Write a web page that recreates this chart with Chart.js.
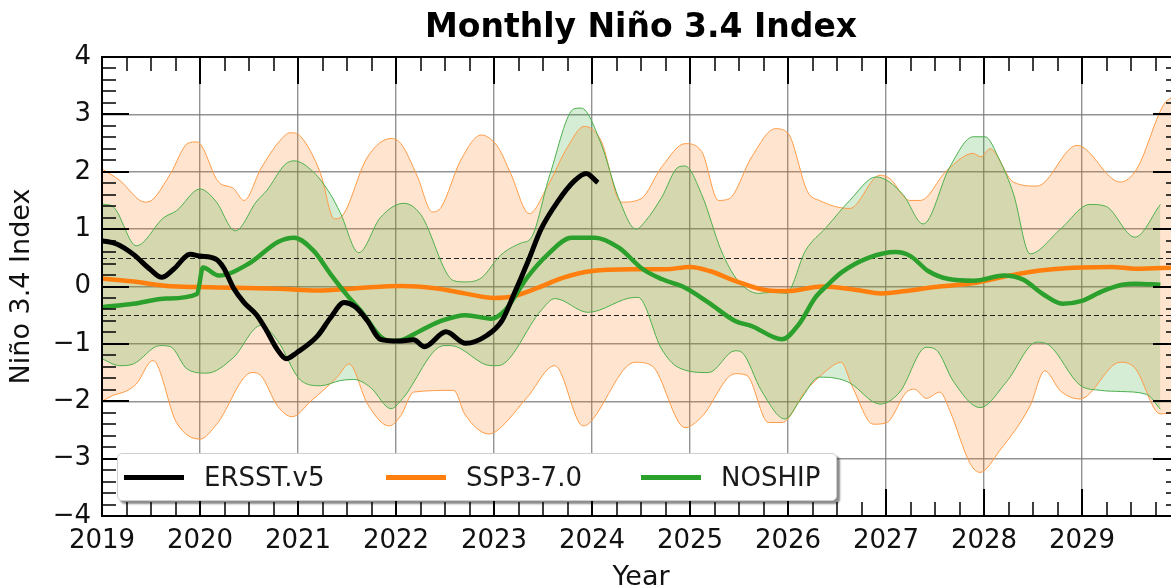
<!DOCTYPE html>
<html>
<head>
<meta charset="utf-8">
<script src="https://cdn.jsdelivr.net/npm/chart.js@4.4.0/dist/chart.umd.min.js"></script>
<style>
    html, body { margin: 0; padding: 0; background: #fff; overflow: hidden; width: 1171px; height: 588px; }
    #wrap { position: relative; width: 1200px; height: 600px; }
    #legend {
        position: absolute; left: 117px; top: 453px; width: 720px; height: 48px;
        box-sizing: border-box; background: #fff; border: 1px solid #cfcfcf; border-radius: 5px;
        box-shadow: 3px 3px 2px rgba(0, 0, 0, 0.45);
        display: flex; align-items: center; padding-left: 6px;
        font-family: 'DejaVu Sans'; font-size: 26px; color: #1a1a1a; white-space: nowrap;
    }
    .item { display: flex; align-items: center; flex: none; }
    .item:nth-child(1) { width: 262px; }
    .item:nth-child(2) { width: 255px; }
    .swatch { width: 60px; height: 5px; margin-right: 20px; flex: none; }
</style>
</head>
<body>
<div id="wrap">
    <canvas id="ninoChart" width="1200" height="600"></canvas>
    <div id="legend"></div>
</div>
<script>
const xMin = 2019, xMax = 2030;
const yMin = -4, yMax = 4;
const refLevels = [0.5, -0.5];

// observed index
const ersstYears = [2019.0, 2019.15, 2019.32, 2019.49, 2019.61, 2019.73, 2019.9, 2020.0, 2020.16, 2020.24,
    2020.34, 2020.45, 2020.58, 2020.68, 2020.79, 2020.88, 2020.99, 2021.2, 2021.33, 2021.47,
    2021.58, 2021.71, 2021.84, 2022.02, 2022.18, 2022.29, 2022.51, 2022.71, 2022.93, 2023.08,
    2023.2, 2023.35, 2023.48, 2023.65, 2023.82, 2023.94, 2024.06];
const ersstValues = [0.80, 0.74, 0.56, 0.30, 0.16, 0.30, 0.56, 0.53, 0.48, 0.33,
    -0.02, -0.28, -0.50, -0.77, -1.10, -1.26, -1.15, -0.86, -0.55, -0.28,
    -0.35, -0.60, -0.92, -0.95, -0.93, -1.05, -0.79, -0.99, -0.85, -0.60,
    -0.15, 0.45, 1.00, 1.48, 1.84, 1.97, 1.81];

// SSP3-7.0 ensemble mean
const sspYears = [2019.0, 2019.3, 2019.66, 2020.0, 2020.34, 2020.8, 2021.2, 2021.6, 2022.05, 2022.4,
    2022.7, 2023.0, 2023.2, 2023.45, 2023.7, 2024.0, 2024.4, 2024.75, 2025.0, 2025.2,
    2025.46, 2025.8, 2026.0, 2026.35, 2026.7, 2026.95, 2027.2, 2027.5, 2027.9, 2028.2,
    2028.45, 2028.7, 2029.0, 2029.3, 2029.55, 2029.95];
const sspValues = [0.14, 0.09, 0.01, -0.01, -0.02, -0.04, -0.07, -0.03, 0.01, -0.03,
    -0.12, -0.20, -0.17, -0.02, 0.15, 0.27, 0.30, 0.30, 0.34, 0.27,
    0.10, -0.07, -0.08, 0.0, -0.06, -0.12, -0.08, -0.01, 0.06, 0.17,
    0.25, 0.30, 0.33, 0.34, 0.31, 0.33];

// SSP3-7.0 spread
const sspHighYears = [2019.0, 2019.18, 2019.44, 2019.52, 2019.70, 2019.88, 2019.97, 2020.19, 2020.34, 2020.45,
    2020.62, 2020.82, 2020.92, 2021.03, 2021.23, 2021.37, 2021.43, 2021.71, 2021.95, 2022.05,
    2022.22, 2022.37, 2022.46, 2022.66, 2022.87, 2023.04, 2023.17, 2023.36, 2023.55, 2023.75,
    2023.92, 2024.09, 2024.30, 2024.50, 2024.71, 2024.95, 2025.12, 2025.29, 2025.40, 2025.63,
    2025.87, 2026.00, 2026.20, 2026.32, 2026.63, 2026.94, 2027.04, 2027.24, 2027.35, 2027.62,
    2027.89, 2027.97, 2028.06, 2028.30, 2028.54, 2028.95, 2029.39, 2029.56, 2029.83, 2029.94];
const sspHighValues = [2.05, 1.85, 1.47, 1.52, 1.97, 2.50, 2.52, 1.82, 1.71, 1.50,
    2.05, 2.55, 2.68, 2.61, 1.97, 1.18, 1.20, 2.26, 2.58, 2.49,
    1.91, 1.30, 1.38, 2.20, 2.64, 2.43, 1.97, 1.27, 1.76, 2.43,
    2.79, 2.55, 1.47, 1.53, 2.08, 2.49, 2.35, 1.50, 1.53, 2.26,
    2.75, 2.67, 1.65, 1.50, 1.36, 1.94, 1.88, 1.50, 1.50, 2.02,
    2.32, 2.26, 2.40, 1.82, 1.75, 2.46, 1.82, 2.05, 3.16, 3.33];
const sspLowYears = [2019.0, 2019.11, 2019.25, 2019.35, 2019.52, 2019.76, 2020.0, 2020.17, 2020.53, 2020.62,
    2020.79, 2020.94, 2021.13, 2021.40, 2021.52, 2021.71, 2021.93, 2022.05, 2022.18, 2022.59,
    2022.70, 2022.95, 2023.04, 2023.34, 2023.62, 2023.91, 2023.96, 2024.44, 2024.61, 2024.95,
    2025.12, 2025.46, 2025.58, 2025.80, 2025.94, 2026.18, 2026.39, 2026.54, 2026.66, 2026.87,
    2027.00, 2027.21, 2027.29, 2027.41, 2027.55, 2027.65, 2027.86, 2027.96, 2028.16, 2028.47,
    2028.62, 2028.78, 2028.98, 2029.39, 2029.54, 2029.80, 2029.94];
const sspLowValues = [-2.00, -1.90, -1.82, -1.70, -1.29, -2.37, -2.66, -2.40, -1.50, -1.55,
    -2.08, -2.27, -2.00, -1.58, -1.35, -2.05, -2.43, -2.25, -1.84, -1.81,
    -2.22, -2.57, -2.50, -1.93, -1.38, -2.43, -2.40, -1.32, -1.38, -2.46,
    -2.27, -1.52, -1.55, -2.37, -2.37, -1.82, -1.47, -1.32, -1.76, -2.40,
    -2.38, -1.84, -1.79, -1.95, -1.84, -2.16, -3.09, -3.24, -2.86, -2.08,
    -1.47, -1.82, -1.96, -1.32, -1.42, -2.22, -2.19];

// NOSHIP ensemble mean
const noshipYears = [2019.0, 2019.32, 2019.66, 2019.97, 2020.03, 2020.19, 2020.5, 2020.8, 2020.96, 2021.16,
    2021.33, 2021.5, 2021.64, 2021.88, 2022.01, 2022.25, 2022.46, 2022.71, 2022.97, 2023.11,
    2023.34, 2023.55, 2023.79, 2024.03, 2024.27, 2024.52, 2024.71, 2024.95, 2025.19, 2025.46,
    2025.63, 2025.94, 2026.11, 2026.28, 2026.4, 2026.55, 2026.82, 2027.1, 2027.25, 2027.43,
    2027.64, 2027.9, 2028.2, 2028.4, 2028.6, 2028.8, 2029.0, 2029.21, 2029.41, 2029.55,
    2029.8];
const noshipValues = [-0.36, -0.30, -0.21, -0.13, 0.33, 0.19, 0.40, 0.78, 0.85, 0.62,
    0.22, -0.15, -0.42, -0.92, -0.95, -0.77, -0.60, -0.50, -0.56, -0.42,
    0.16, 0.56, 0.85, 0.85, 0.68, 0.30, 0.13, -0.02, -0.28, -0.60,
    -0.69, -0.92, -0.66, -0.19, 0.02, 0.25, 0.50, 0.60, 0.53, 0.27,
    0.13, 0.10, 0.19, 0.12, -0.13, -0.30, -0.25, -0.08, 0.03, 0.05,
    0.03];

// NOSHIP spread
const noHighYears = [2019.0, 2019.12, 2019.35, 2019.63, 2019.76, 2020.0, 2020.16, 2020.36, 2020.58, 2020.68,
    2020.87, 2020.96, 2021.16, 2021.33, 2021.43, 2021.62, 2021.84, 2022.08, 2022.25, 2022.59,
    2022.71, 2022.87, 2023.07, 2023.28, 2023.38, 2023.57, 2023.82, 2023.89, 2024.09, 2024.27,
    2024.45, 2024.55, 2024.71, 2024.88, 2024.95, 2025.12, 2025.32, 2025.49, 2025.70, 2025.84,
    2025.98, 2026.18, 2026.39, 2026.63, 2026.90, 2027.17, 2027.38, 2027.65, 2027.89, 2028.01,
    2028.16, 2028.30, 2028.47, 2028.78, 2029.08, 2029.24, 2029.54, 2029.80];
const noHighValues = [1.44, 1.38, 0.71, 1.20, 1.32, 1.70, 1.49, 0.97, 1.49, 1.67,
    2.13, 2.19, 1.99, 1.61, 1.29, 0.59, 1.20, 1.45, 1.26, 0.10,
    0.08, 0.15, 0.55, 0.76, 0.85, 1.95, 3.10, 3.11, 2.50, 1.55,
    1.00, 1.15, 1.55, 2.08, 2.10, 1.60, 0.62, 0.10, -0.12, -0.10,
    -0.12, 0.63, 1.03, 1.50, 1.91, 1.61, 1.09, 2.08, 2.61, 2.61,
    2.20, 1.62, 0.57, 1.00, 1.43, 1.40, 0.86, 1.43];
const noLowYears = [2019.0, 2019.18, 2019.32, 2019.59, 2019.70, 2019.87, 2020.07, 2020.34, 2020.62, 2020.79,
    2021.03, 2021.23, 2021.43, 2021.57, 2021.74, 2021.95, 2022.05, 2022.49, 2022.56, 2022.97,
    2023.04, 2023.48, 2023.62, 2023.96, 2024.44, 2024.47, 2024.71, 2024.88, 2025.19, 2025.46,
    2025.53, 2025.73, 2025.97, 2026.12, 2026.32, 2026.49, 2026.63, 2026.94, 2027.14, 2027.41,
    2027.51, 2027.69, 2027.96, 2028.23, 2028.54, 2028.67, 2028.98, 2029.19, 2029.39, 2029.66,
    2029.80];
const noLowValues = [-1.26, -1.38, -1.35, -1.03, -1.05, -1.44, -1.51, -1.24, -0.68, -0.94,
    -1.64, -1.73, -1.64, -1.62, -1.76, -2.13, -1.99, -1.03, -1.03, -1.38,
    -1.38, -0.42, -0.21, -0.45, -0.19, -0.19, -1.09, -1.41, -1.50, -1.12,
    -1.15, -1.82, -2.31, -1.99, -1.58, -1.60, -1.68, -2.05, -1.84, -1.06,
    -1.10, -1.66, -2.11, -1.66, -0.97, -1.03, -1.72, -1.81, -1.83, -1.88,
    -2.14];

const FONT = 'DejaVu Sans';

function toPoints(xs, ys) {
    return xs.map((x, i) => ({ x: x, y: ys[i] }));
}

function mainLine(label, xs, ys, color, width, order) {
    return {
        label: label,
        data: toPoints(xs, ys),
        borderColor: color,
        borderWidth: width,
        pointRadius: 0,
        fill: false,
        order: order,
        cubicInterpolationMode: 'monotone',
        inLegend: true
    };
}

function edgeLine(label, xs, ys, color, order, fillColor) {
    return {
        label: label,
        data: toPoints(xs, ys),
        borderColor: color,
        borderWidth: 1,
        pointRadius: 0,
        fill: fillColor ? '-1' : false,
        backgroundColor: fillColor || 'transparent',
        order: order,
        cubicInterpolationMode: 'monotone'
    };
}

// frame, inward ticks on all four sides, and the +-0.5 dashed lines
const frameAndTicks = {
    id: 'frameAndTicks',
    beforeDatasetsDraw(chart) {
        const { ctx, chartArea: a, scales: { y } } = chart;
        ctx.save();
        ctx.strokeStyle = '#222';
        ctx.lineWidth = 1.2;
        ctx.setLineDash([5, 3]);
        refLevels.forEach(v => {
            const py = Math.round(y.getPixelForValue(v)) + 0.5;
            ctx.beginPath();
            ctx.moveTo(a.left, py);
            ctx.lineTo(a.right, py);
            ctx.stroke();
        });
        ctx.restore();
    },
    afterDraw(chart) {
        const { ctx, chartArea: a, scales: { x, y } } = chart;
        ctx.save();
        ctx.strokeStyle = '#000';
        for (let k = 0; k <= (xMax - xMin) * 4; k++) {
            const major = k % 4 === 0;
            const px = Math.round(x.getPixelForValue(xMin + k / 4));
            const len = major ? 27 : 14;
            ctx.lineWidth = major ? 2 : 1.5;
            ctx.beginPath();
            ctx.moveTo(px, a.bottom); ctx.lineTo(px, a.bottom - len);
            ctx.moveTo(px, a.top); ctx.lineTo(px, a.top + len);
            ctx.stroke();
        }
        for (let k = 0; k <= (yMax - yMin) * 5; k++) {
            const major = k % 5 === 0;
            const py = Math.round(y.getPixelForValue(yMin + k / 5));
            const len = major ? 27 : 14;
            ctx.lineWidth = major ? 2 : 1.5;
            ctx.beginPath();
            ctx.moveTo(a.left, py); ctx.lineTo(a.left + len, py);
            ctx.moveTo(a.right, py); ctx.lineTo(a.right - len, py);
            ctx.stroke();
        }
        ctx.lineWidth = 2;
        ctx.strokeRect(a.left, a.top, a.right - a.left, a.bottom - a.top);
        ctx.restore();
    }
};

const datasets = [
    mainLine('ERSST.v5', ersstYears, ersstValues, '#000000', 5, 0),
    mainLine('SSP3-7.0', sspYears, sspValues, '#ff7f0e', 4.5, 2),
    mainLine('NOSHIP', noshipYears, noshipValues, '#2ca02c', 4.5, 1),
    edgeLine('SSP3-7.0 upper', sspHighYears, sspHighValues, '#ff9a45', 4, null),
    edgeLine('SSP3-7.0 lower', sspLowYears, sspLowValues, '#ff9a45', 4, 'rgba(255,127,14,0.2)'),
    edgeLine('NOSHIP upper', noHighYears, noHighValues, '#4cb04c', 3, null),
    edgeLine('NOSHIP lower', noLowYears, noLowValues, '#4cb04c', 3, 'rgba(44,160,44,0.2)')
];

const ctx = document.getElementById('ninoChart').getContext('2d');
const chart = new Chart(ctx, {
    type: 'line',
    data: { datasets: datasets },
    options: {
        responsive: false,
        animation: false,
        layout: { padding: { left: 0, right: 20, top: 0, bottom: 0 } },
        plugins: {
            legend: { display: false },
            tooltip: { enabled: false },
            filler: { drawTime: 'beforeDatasetsDraw' },
            title: {
                display: true,
                fullSize: false,
                text: 'Monthly Niño 3.4 Index',
                color: '#000',
                font: { family: FONT, size: 33, weight: 'bold', lineHeight: 1.2 },
                padding: { top: 9, bottom: 8.4 }
            }
        },
        scales: {
            x: {
                type: 'linear',
                min: xMin,
                max: xMax,
                afterFit: s => { s.height = 84; },
                border: { display: false },
                grid: { color: 'rgba(120,120,120,0.8)', lineWidth: 1.4, drawTicks: false },
                ticks: {
                    stepSize: 1, autoSkip: false, maxRotation: 0, padding: 10, color: '#111',
                    font: { family: FONT, size: 26 },
                    callback: v => v === xMax ? '' : String(v)
                },
                title: {
                    display: true, text: 'Year', color: '#111',
                    font: { family: FONT, size: 27 },
                    padding: { top: 0, bottom: 6 }
                }
            },
            y: {
                min: yMin,
                max: yMax,
                afterFit: s => { s.width = 102; },
                border: { display: false },
                grid: { color: 'rgba(120,120,120,0.8)', lineWidth: 1.4, drawTicks: false },
                ticks: {
                    stepSize: 1, padding: 11, color: '#111',
                    font: { family: FONT, size: 26 },
                    callback: v => v < 0 ? '\u2212' + Math.abs(v) : String(v)
                },
                title: {
                    display: true, text: 'Niño 3.4 Index', color: '#111',
                    font: { family: FONT, size: 27 },
                    padding: { top: 6, bottom: 0 }
                }
            }
        }
    },
    plugins: [frameAndTicks]
});

// legend box inside the plot, built from the main series
const legendEl = document.getElementById('legend');
chart.data.datasets.filter(d => d.inLegend).forEach(d => {
    const item = document.createElement('div');
    item.className = 'item';
    const sw = document.createElement('span');
    sw.className = 'swatch';
    sw.style.background = d.borderColor;
    const txt = document.createElement('span');
    txt.textContent = d.label;
    item.appendChild(sw);
    item.appendChild(txt);
    legendEl.appendChild(item);
});
</script>
</body>
</html>
